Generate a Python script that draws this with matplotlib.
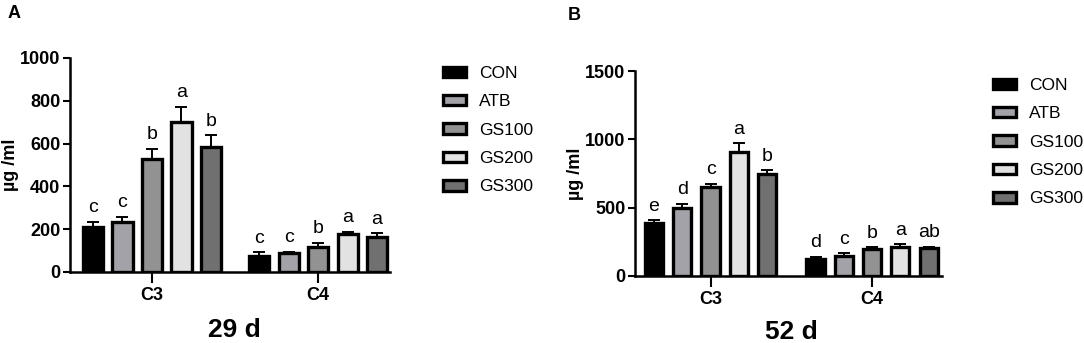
import numpy as np
import matplotlib.pyplot as plt

plt.rcParams['font.family'] = ['Liberation Sans', 'DejaVu Sans']

groups = ["C3", "C4"]
treatments = ["CON", "ATB", "GS100", "GS200", "GS300"]
colors = ["#000000", "#a2a2a8", "#929292", "#e2e2e2", "#707070"]

# 29 d
mean_29 = [[211, 232, 527, 703, 586], [75, 89, 117, 178, 165]]
err_29 = [[23, 26, 50, 70, 52], [17, 5, 19, 10, 15]]
sig_29 = [["c", "c", "b", "a", "b"], ["c", "c", "b", "a", "a"]]

# 52 d
mean_52 = [[390, 495, 653, 909, 746], [122, 149, 200, 215, 202]]
err_52 = [[18, 32, 20, 61, 29], [17, 17, 10, 17, 13]]
sig_52 = [["e", "d", "c", "a", "b"], ["d", "c", "b", "a", "ab"]]


def panel(ax, means, errs, sigs, ymax, yticks, gap, width, xlim, legend_xy, label_x):
    fig = ax.figure
    bars = []
    for g in range(len(groups)):
        for i in range(len(treatments)):
            x = g * gap + i
            b = ax.bar(x, means[g][i], width=width, color=colors[i],
                       edgecolor="black", linewidth=2.4, zorder=2)
            ax.errorbar(x, means[g][i], yerr=[[0], [errs[g][i]]], fmt="none",
                        ecolor="black", elinewidth=1.4, capsize=4, capthick=1.4,
                        zorder=1)
            ax.annotate(sigs[g][i], (x, means[g][i] + errs[g][i]),
                        xytext=(0, 4), textcoords="offset points",
                        ha="center", va="bottom", fontsize=14)
            if g == 0:
                bars.append(b)
    ax.set_xlim(*xlim)
    ax.set_ylim(0, ymax)
    ax.set_yticks(yticks)
    ax.set_xticks([2, gap + 2])
    ax.set_xticklabels(groups, fontweight="bold", fontsize=13)
    for t in ax.get_yticklabels():
        t.set_fontweight("bold")
        t.set_fontsize(13)
    ax.tick_params(axis="y", width=1.5, length=5, pad=2)
    ax.tick_params(axis="x", width=1.5, length=8, pad=3)
    ax.spines["top"].set_visible(False)
    ax.spines["right"].set_visible(False)
    ax.spines["left"].set_linewidth(1.8)
    ax.spines["bottom"].set_linewidth(1.8)
    ax.set_ylabel("µg /ml", fontweight="bold", fontsize=13)
    ax.yaxis.set_label_coords(label_x, 0.5)
    ax.legend(handles=[b[0] for b in bars], labels=treatments, frameon=False,
              loc="upper left", bbox_to_anchor=legend_xy,
              bbox_transform=fig.transFigure, fontsize=12.5,
              handlelength=1.35, handleheight=0.55, labelspacing=0.77,
              handletextpad=0.75, borderpad=0, borderaxespad=0)


fig = plt.figure(figsize=(10.84, 3.43), dpi=100)

axA = fig.add_axes([70 / 1084, 71 / 343, 320 / 1084, 214 / 343])
panel(axA, mean_29, err_29, sig_29, 1000, [0, 200, 400, 600, 800, 1000],
      5.63, 0.68, (-0.78, 10.07), (443 / 1084, 1 - 66 / 343), -0.159)

axB = fig.add_axes([635 / 1084, 67 / 343, 307 / 1084, 205 / 343])
panel(axB, mean_52, err_52, sig_52, 1500, [0, 500, 1000, 1500],
      5.71, 0.64, (-0.67, 10.18), (993 / 1084, 1 - 78 / 343), -0.166)

fig.text(234 / 1084, 1 - 330 / 343, "29 d", ha="center", va="center",
         fontsize=19, fontweight="bold")
fig.text(791 / 1084, 1 - 332 / 343, "52 d", ha="center", va="center",
         fontsize=19, fontweight="bold")
fig.text(14 / 1084, 1 - 14 / 343, "A", ha="center", va="center",
         fontsize=13, fontweight="bold")
fig.text(574 / 1084, 1 - 15 / 343, "B", ha="center", va="center",
         fontsize=13, fontweight="bold")

fig.savefig("out.png", dpi=100)
